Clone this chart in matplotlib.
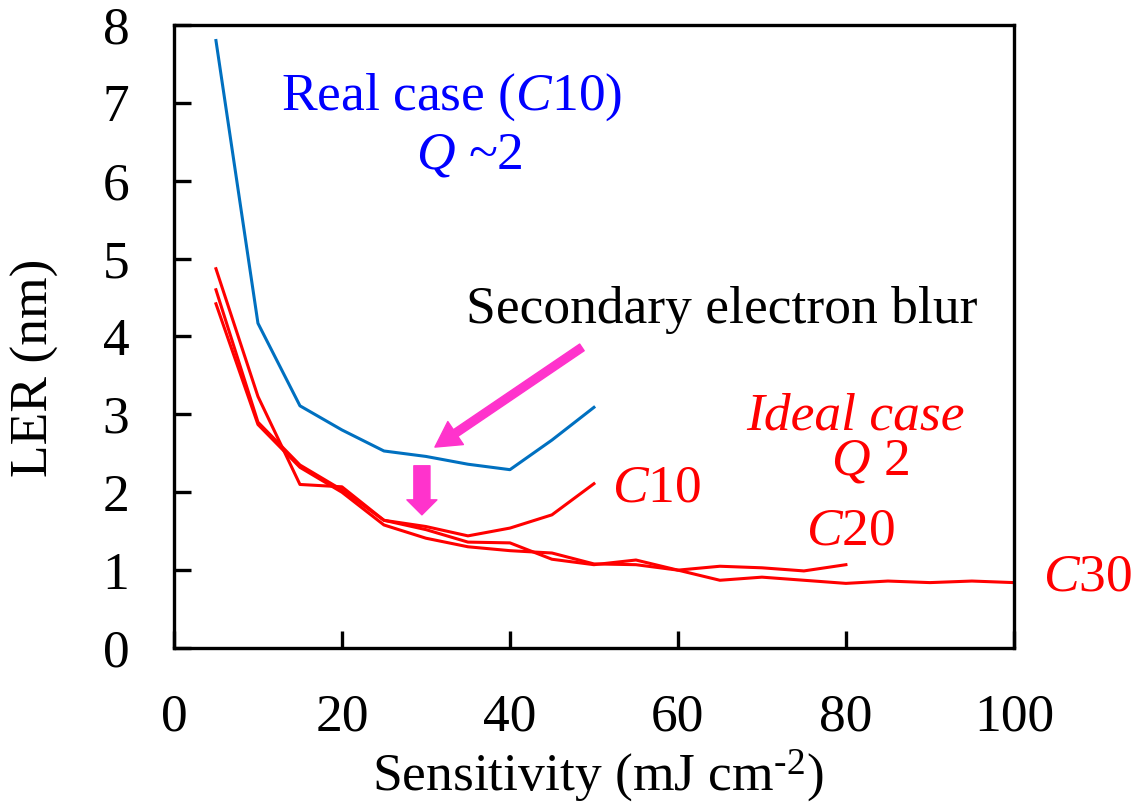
import matplotlib
matplotlib.use("Agg")
import matplotlib.pyplot as plt

# Sensitivity grid (mJ cm-2)
sens_real = [5, 10, 15, 20, 25, 30, 35, 40, 45, 50]
sens_c10 = [5, 10, 15, 20, 25, 30, 35, 40, 45, 50]
sens_c20 = [5, 10, 15, 20, 25, 30, 35, 40, 45, 50, 55, 60, 65, 70, 75, 80]
sens_c30 = [5, 10, 15, 20, 25, 30, 35, 40, 45, 50, 55, 60, 65, 70, 75, 80, 85, 90, 95, 100]

# LER (nm)
ler_real = [7.80, 4.17, 3.11, 2.80, 2.53, 2.46, 2.36, 2.29, 2.67, 3.09]
ler_c10 = [4.87, 3.23, 2.10, 2.07, 1.64, 1.56, 1.44, 1.54, 1.71, 2.11]
ler_c20 = [4.60, 2.90, 2.35, 2.03, 1.64, 1.52, 1.36, 1.35, 1.14, 1.07,
           1.13, 1.00, 1.05, 1.03, 0.99, 1.07]
ler_c30 = [4.42, 2.87, 2.32, 2.00, 1.58, 1.41, 1.30, 1.25, 1.22, 1.08,
           1.07, 1.00, 0.87, 0.91, 0.87, 0.83, 0.86, 0.84, 0.86, 0.84]

x_ticks = [0, 20, 40, 60, 80, 100]
y_ticks = [0, 1, 2, 3, 4, 5, 6, 7, 8]

plt.rcParams['font.family'] = ['Liberation Serif', 'DejaVu Serif']
plt.rcParams['mathtext.fontset'] = 'custom'
plt.rcParams['mathtext.rm'] = 'Liberation Serif'
plt.rcParams['mathtext.it'] = 'Liberation Serif:italic'

FS = 38.5
BLUE_LINE = '#0070C0'
BLUE_TEXT = '#0000FF'
RED = '#FF0000'
PINK = '#FF33CC'

fig = plt.figure(figsize=(11.34, 8.05), dpi=100)
ax = fig.add_axes([0.1534, 0.195, 0.7407, 0.774])

ax.plot(sens_real, ler_real, color=BLUE_LINE, lw=2.2)
ax.plot(sens_c10, ler_c10, color=RED, lw=2.2)
ax.plot(sens_c20, ler_c20, color=RED, lw=2.2)
ax.plot(sens_c30, ler_c30, color=RED, lw=2.2)

ax.set_xlim(0, 100)
ax.set_ylim(0, 8)
ax.set_xticks(x_ticks)
ax.set_yticks(y_ticks)
ax.tick_params(axis='both', direction='in', length=12, width=2.4, labelsize=FS)
ax.tick_params(axis='x', pad=33)
ax.tick_params(axis='y', pad=32)
for sp in ax.spines.values():
    sp.set_linewidth(2.4)

# hyphen (not a minus sign) in the exponent
ax.set_xlabel('Sensitivity (mJ cm$^{\u20102}$)', fontsize=FS, va='center')
ax.xaxis.set_label_coords(0.504, -0.204)
ax.set_ylabel('LER (nm)', fontsize=FS, va='center')
ax.yaxis.set_label_coords(-0.165, 0.449)

# annotations
ax.text(33.1, 7.07, 'Real case ($\\it{C}$10)', color=BLUE_TEXT, fontsize=FS,
        ha='center', va='center')
ax.text(35.2, 6.33, '$\\it{Q}$ ~2', color=BLUE_TEXT, fontsize=FS,
        ha='center', va='center')
ax.text(65.2, 4.34, 'Secondary electron blur', color='black', fontsize=FS,
        ha='center', va='center')
ax.text(81.1, 2.97, 'Ideal case', color=RED, fontsize=FS, style='italic',
        ha='center', va='center')
ax.text(82.9, 2.39, '$\\it{Q}$ 2', color=RED, fontsize=FS,
        ha='center', va='center')
ax.text(57.5, 2.05, '$\\it{C}$10', color=RED, fontsize=FS,
        ha='center', va='center')
ax.text(80.5, 1.49, '$\\it{C}$20', color=RED, fontsize=FS,
        ha='center', va='center')
ax.text(108.8, 0.91, '$\\it{C}$30', color=RED, fontsize=FS,
        ha='center', va='center', clip_on=False)

# arrows
ax.annotate('', xy=(31.07, 2.58), xytext=(48.57, 3.86),
            arrowprops=dict(arrowstyle='simple,head_length=0.9,head_width=1.0,tail_width=0.29',
                            color=PINK, mutation_scale=20, shrinkA=0, shrinkB=0))
ax.annotate('', xy=(29.52, 1.71), xytext=(29.52, 2.34),
            arrowprops=dict(arrowstyle='simple,head_length=0.54,head_width=1.08,tail_width=0.58',
                            color=PINK, mutation_scale=20, shrinkA=0, shrinkB=0))

fig.savefig('out.png', dpi=100)
